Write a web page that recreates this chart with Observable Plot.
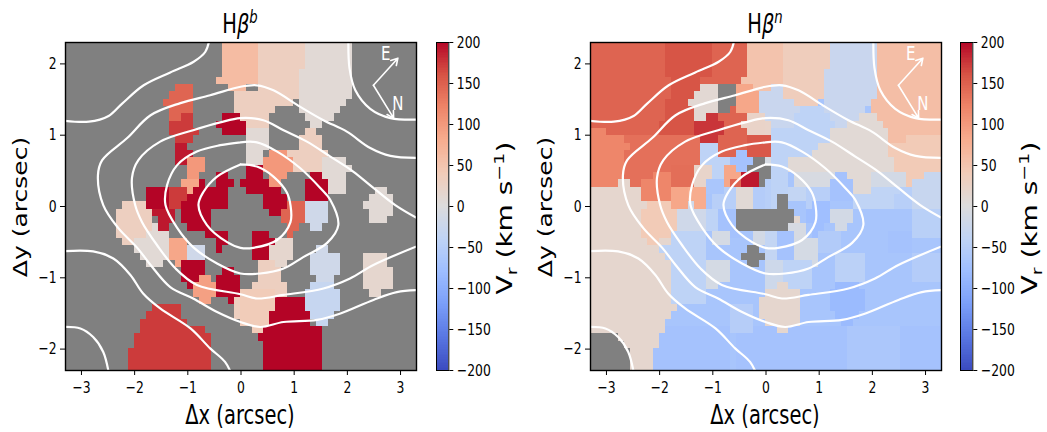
<!DOCTYPE html>
<html><head><meta charset="utf-8">
<script src="https://cdn.jsdelivr.net/npm/d3@7"></script>
<script src="https://cdn.jsdelivr.net/npm/@observablehq/plot@0.6"></script>
<style>
html,body{margin:0;padding:0;background:#fff}
#fig{position:relative;width:1047px;height:432px;overflow:hidden;font-family:"DejaVu Sans",sans-serif;color:#000}
#fig svg{position:absolute;top:0;overflow:visible}
.lab{position:absolute;white-space:nowrap;font-size:26px;line-height:1;transform-origin:center}
.lab sup,.lab sub{font-size:.68em;line-height:0}
</style></head><body><div id="fig"></div>
<script>
// Colour map stops (velocity, colour)
const cmapV=[-200,-160,-120,-80,-40,0,40,80,120,160,200];
const cmapC=["#3b4cc0","#5977e3","#7b9ff9","#9ebeff","#c0d4f5","#dddcdc","#f2cbb7","#f7ac8e","#ee8468","#d65244","#b40426"];
const tickX=[-3,-2,-1,0,1,2,3], tickY=[-2,-1,0,1,2], tickC=[-200,-150,-100,-50,0,50,100,150,200];

// Spaxel runs: [firstColumn, endColumn, firstRow, endRow, Vr km/s]; later entries overwrite earlier
const cellsB=[
[27,33,0,6,60],[26,27,5,6,60],[28,31,6,7,60],
[33,41,0,4,30],[33,40,4,8,30],[30,36,7,10,30],[29,30,7,10,30],[30,35,10,12,30],[35,39,8,9,30],
[41,49,0,8,8],[40,41,4,8,8],[40,48,8,9,8],[40,47,9,10,8],[41,46,10,11,8],[42,44,11,12,8],
[41,43,12,13,30],[40,44,13,15,30],[38,45,15,16,30],[39,44,16,18,30],
[44,48,16,21,8],[48,49,17,18,8],
[42,44,18,19,200],[41,45,19,22,200],
[41,45,22,25,-20],[42,44,25,26,-20],
[53,55,20,21,8],[52,56,21,22,8],[51,56,22,23,8],[52,56,23,24,8],[52,55,24,25,8],
[35,38,15,16,100],[34,39,16,18,100],[35,38,18,19,100],[35,37,19,20,100],
[31,35,12,15,8],[31,34,15,17,8],
[31,34,17,19,200],[30,35,19,20,200],[31,37,20,21,200],[34,38,21,23,200],[35,37,23,24,200],
[27,30,10,13,200],[26,27,11,12,200],[30,31,11,13,200],
[19,22,6,7,145],[18,22,7,8,145],[17,22,8,9,145],[18,22,9,10,145],[18,20,10,11,145],
[20,22,10,11,172],[18,22,11,13,172],[22,23,12,13,172],[19,22,13,14,172],
[19,21,14,15,190],[19,22,15,17,190],
[21,24,16,18,100],[21,23,18,19,100],[20,23,19,20,85],[20,22,20,21,85],
[23,24,19,20,200],[26,28,18,19,200],[26,29,19,20,200],
[14,20,20,22,200],[22,28,20,21,200],[20,28,21,22,200],[14,18,22,23,200],[20,28,22,23,200],
[18,21,20,22,172],[18,20,22,23,172],
[15,19,23,24,190],[20,25,23,25,200],[16,19,24,25,190],[16,18,25,26,190],[21,25,25,26,200],
[24,28,26,27,200],[26,28,27,28,200],[26,27,28,29,200],
[10,14,22,23,30],[9,15,23,27,30],[10,12,27,28,30],
[15,16,25,26,8],[14,18,26,27,8],[12,18,27,29,8],[13,18,29,30,8],[14,17,30,31,8],
[18,21,27,30,85],[19,20,30,31,85],
[21,24,28,30,-20],
[20,24,30,32,200],[20,23,32,33,200],[21,22,33,34,200],
[23,25,32,33,92],[22,26,33,35,92],[23,25,35,36,92],
[27,29,31,32,200],[26,30,32,35,200],[28,29,35,36,200],
[32,35,26,30,200],[35,36,27,28,200],
[36,39,27,29,15],[35,39,28,30,15],[35,38,30,31,15],
[33,36,30,31,30],[33,37,31,33,30],[32,38,33,35,30],
[30,36,34,39,38],[32,34,39,40,38],[29,30,35,38,30],
[36,41,35,37,200],[35,42,37,39,200],[34,44,39,45,200],[33,34,40,41,200],
[43,45,28,29,-20],[42,47,29,32,-20],[43,46,32,33,-20],
[42,46,33,34,-32],[41,47,34,37,-32],[42,46,37,38,-32],[43,45,38,39,-32],
[51,55,29,31,15],[51,56,31,34,15],[52,54,34,35,15],
[15,20,36,37,172],[14,20,37,38,172],[13,21,38,39,172],[13,24,39,40,172],[12,25,40,42,172],[11,25,42,45,172],
[38,41,22,23,145],[37,41,23,25,145],[38,40,25,26,145],[38,39,26,27,145]
];
const cellsN=[
[0,60,0,45,-68],
[0,30,0,20,146],
[13,21,0,5,158],[14,19,5,8,158],[13,18,8,11,158],[12,18,11,13,158],
[6,19,13,20,136],
[0,3,12,13,118],[0,6,13,14,118],[0,7,14,15,118],[0,6,15,19,118],[0,5,19,20,118],
[14,18,17,20,138],[9,14,19,22,118],[11,14,18,19,118],
[14,17,20,23,85],[17,20,20,23,80],[18,21,17,20,20],
[0,9,20,22,15],[5,7,19,20,15],[0,10,22,23,15],
[27,33,0,5,50],[26,33,5,6,50],[28,31,6,7,50],
[25,28,6,7,85],[25,29,7,10,85],
[31,33,6,7,-28],[29,36,7,10,-28],[30,36,10,12,-28],
[33,41,0,4,35],[33,40,4,8,35],[35,39,8,9,35],
[41,49,0,4,-28],[40,49,4,8,-28],[40,48,8,9,-28],[40,47,9,10,-28],[41,46,10,11,-28],[42,44,11,12,-28],
[49,60,0,8,57],[48,60,8,10,57],[49,60,10,11,57],[50,60,11,12,57],[51,60,12,13,57],[51,54,13,14,57],
[54,60,13,14,40],[51,60,14,17,40],[52,60,17,18,40],[53,57,18,19,40],[54,55,19,20,40],
[46,49,10,11,8],[44,50,11,12,8],[41,51,12,14,8],[39,51,14,15,8],[38,51,15,16,8],[34,52,16,18,8],
[35,41,18,20,-8],[44,48,18,21,8],[48,54,18,20,-15],[41,44,18,19,-8],
[36,40,9,10,-42],[35,41,10,11,-42],[35,42,11,12,-42],[35,41,12,14,-42],[35,39,14,15,-42],
[31,35,12,16,-42],[31,34,16,23,-42],[34,38,15,16,-42],
[30,31,11,13,20],[30,31,13,16,155],[30,31,16,17,-10],[30,31,19,23,-50],
[34,37,20,22,-36],[37,41,20,23,-50],[38,41,22,23,-78],
[42,44,18,19,-72],[41,45,19,22,-72],
[45,52,21,23,-40],[48,55,20,21,-40],[52,56,21,23,-50],[53,55,20,21,-50],[55,60,19,23,-30],[57,60,18,19,-30],
[19,22,6,7,10],[18,22,7,8,10],[17,22,8,9,10],[18,22,9,10,10],[18,20,10,11,10],
[20,22,10,11,175],[18,23,11,13,175],[19,22,13,14,175],
[27,30,10,13,22],[26,27,11,12,22],[27,30,13,16,155],
[19,22,14,17,-42],[21,24,16,19,-42],
[23,26,17,19,85],[22,24,19,20,85],
[25,27,15,18,-72],[24,28,16,17,-72],
[26,29,18,20,190],[28,29,20,21,190],
[21,25,20,23,-50],[20,23,19,21,-66],
[25,28,20,23,8],[28,30,20,23,-54],
[11,24,39,45,-72],[25,30,39,45,-72],[30,44,39,45,-72],[53,60,39,45,-72],
[0,14,23,36,15],[14,15,35,37,15],[0,14,36,38,15],[0,13,38,40,15],[0,12,40,42,15],[0,11,42,45,15],
[10,14,22,23,40],[9,15,23,27,40],[10,12,27,28,40],
[15,20,26,28,-42],[14,15,26,28,-42],[14,20,28,36,-42],[12,14,28,29,-42],[13,14,29,30,-42],
[15,20,23,26,-20],[17,18,22,23,-20],
[21,24,26,28,-12],[20,24,30,33,-12],[20,22,33,34,-12],
[20,22,23,26,-42],[22,25,23,26,-72],[24,26,26,27,-72],
[28,30,26,28,-15],[24,28,36,40,-52],[29,30,35,38,15],
[35,36,24,25,12],[34,37,25,27,-10],
[37,41,23,25,-78],[38,40,25,27,-78],
[41,45,23,25,-15],[42,44,25,26,-15],
[30,32,26,30,-36],[32,35,26,31,-72],[35,39,27,31,-12],
[30,33,30,34,-22],[33,38,30,34,-42],
[32,34,33,34,15],[30,36,34,39,15],[32,34,39,40,15],
[39,43,26,29,-56],[42,47,29,33,-46],
[42,46,33,34,-84],[41,47,34,37,-84],[42,46,37,38,-84],[43,45,38,39,-84],
[55,60,23,27,-48],[51,55,26,29,-72],[55,60,29,33,-54],[44,53,39,45,-64]
];
// Masked (no data) spaxels of the narrow component: [firstColumn,endColumn,firstRow,endRow]
const holesN=[
[22,25,6,9],[22,24,9,10],[28,30,16,17],[27,30,17,18],[29,30,18,20],[30,31,17,19],
[32,34,21,23],[25,30,23,26],[30,35,23,25],[30,34,25,26],
[27,29,28,29],[26,30,29,30],[27,29,30,31],
[0,5,40,41],[0,6,41,42],[0,7,42,45]
];

// White continuum contours, arcsec
const contourA=[[2.02,2.4],[2.04,1.94],[2.15,1.63],[2.43,1.37],[2.81,1.24],[3.4,1.22]];
const contourB=[[-3.4,1.21],[-2.86,1.19],[-2.49,1.27],[-2.24,1.44],[-1.83,1.70],[-1.33,1.88],[-0.89,2.03],[-0.67,2.17],[-0.58,2.4]];
const contourC=[[3.4,0.68],[2.81,0.71],[2.43,0.82],[1.99,1.05],[1.55,1.21],[1.11,1.40],[0.61,1.63],[0.30,1.70],[-0.01,1.68],[-0.58,1.56],[-1.14,1.45],[-1.70,1.28],[-2.14,0.96],[-2.61,0.65],[-2.69,0.44],[-2.59,0.02],[-2.31,-0.30],[-1.95,-0.58],[-1.70,-0.82],[-1.33,-1.13],[-0.90,-1.29],[-0.45,-1.48],[-0.01,-1.62],[0.36,-1.69],[0.80,-1.62],[1.43,-1.59],[1.87,-1.50],[2.49,-1.31],[2.93,-1.20],[3.4,-1.17]];
const contourD=[[3.4,-0.53],[2.49,-0.82],[2.05,-1.01],[1.55,-1.15],[0.80,-1.24],[0.30,-1.29],[-0.01,-1.23],[-0.83,-1.10],[-1.23,-0.87],[-1.58,-0.54],[-1.86,-0.22],[-1.99,0.02],[-2.05,0.40],[-1.93,0.65],[-1.52,0.91],[-0.90,1.07],[-0.39,1.18],[-0.01,1.24],[0.42,1.21],[0.80,1.07],[1.24,0.91],[1.68,0.70],[2.11,0.49],[2.49,0.26],[2.90,0.02],[3.4,-0.2]];
const contourE=[[-0.01,0.90],[0.30,0.90],[0.68,0.77],[1.11,0.54],[1.49,0.26],[1.68,0.09],[1.83,-0.26],[1.62,-0.51],[1.17,-0.71],[0.80,-0.87],[0.36,-0.94],[-0.01,-0.94],[-0.45,-0.80],[-0.90,-0.57],[-1.20,-0.30],[-1.42,0.02],[-1.39,0.30],[-1.20,0.58],[-0.83,0.77],[-0.39,0.86],[-0.01,0.90]];
const contourF=[[-0.01,0.59],[0.30,0.56],[0.61,0.42],[0.86,0.20],[0.93,0.02],[0.93,-0.22],[0.68,-0.47],[0.23,-0.58],[-0.01,-0.58],[-0.26,-0.50],[-0.64,-0.26],[-0.80,0.02],[-0.71,0.20],[-0.45,0.42],[-0.01,0.59]];
const contourG=[[-3.4,-0.63],[-2.78,-0.63],[-2.40,-0.73],[-2.08,-0.96],[-1.84,-1.22],[-1.52,-1.43],[-0.95,-1.71],[-0.58,-1.99],[-0.30,-2.18],[-0.15,-2.4]];
const contourH=[[-3.4,-1.69],[-3.02,-1.71],[-2.78,-1.83],[-2.59,-2.04],[-2.47,-2.4]];
const contours=[contourA,contourB,contourC,contourD,contourE,contourF,contourG,contourH];

// Compass: [originX,originY,tipX,tipY]
const compass=[[2.49,1.70,2.95,2.08],[2.49,1.70,2.87,1.24]];
const compassLabels=[[2.72,2.14,"E"],[2.95,1.44,"N"]];

const colX=c=>Math.max(-3.3,Math.min(3.3,-3.329+0.1106*c));
const rowY=k=>Math.max(-2.3,Math.min(2.3,2.328-0.10285*k));
const colorOpt={type:"linear",domain:cmapV,range:cmapC,clamp:true};
const fontStyle={fontFamily:"DejaVu Sans",fontSize:"16.5px",color:"#000",background:"transparent",overflow:"visible"};
const fig=document.getElementById("fig");

function addSvg(svg,left){svg.style.left=left+"px";fig.appendChild(svg);
  svg.querySelectorAll("text").forEach(t=>{const w=t.getComputedTextLength();
    t.setAttribute("lengthAdjust","spacingAndGlyphs");t.setAttribute("textLength",w*0.75);});}

function panel(cells,holes,left){
  const rect=(d,extra)=>Plot.rect(d,{x1:r=>colX(r[0]),x2:r=>colX(r[1]),y1:r=>rowY(r[2]),y2:r=>rowY(r[3]),shapeRendering:"crispEdges",...extra});
  const p=Plot.plot({width:430,height:432,marginLeft:65,marginRight:14,marginTop:42,marginBottom:62,style:fontStyle,
    x:{domain:[-3.3,3.3]},y:{domain:[-2.3,2.3]},color:colorOpt,
    marks:[
      Plot.frame({fill:"#808080",stroke:"none"}),
      rect(cells,{fill:r=>r[4]}),
      rect(holes,{fill:"#808080"}),
      ...contours.map(c=>Plot.line(c,{curve:"catmull-rom",stroke:"#fff",strokeWidth:2.2,clip:true})),
      Plot.arrow(compass,{x1:d=>d[0],y1:d=>d[1],x2:d=>d[2],y2:d=>d[3],stroke:"#fff",strokeWidth:1.6,headLength:7,bend:0}),
      Plot.text(compassLabels,{x:d=>d[0],y:d=>d[1],text:d=>d[2],fill:"#fff",fontSize:20}),
      Plot.axisX({ticks:tickX,tickFormat:"d",tickSize:5,tickPadding:6,label:null,stroke:"#000"}),
      Plot.axisY({ticks:tickY,tickFormat:"d",tickSize:5,tickPadding:4,label:null,stroke:"#000"}),
      Plot.frame({stroke:"#000",strokeWidth:1.4})
    ]});
  addSvg(p,left);
}
function colorbar(left){
  const ramp=d3.range(-200,200,2);
  const p=Plot.plot({width:70,height:432,marginLeft:5,marginRight:52.7,marginTop:42,marginBottom:62,style:fontStyle,
    x:{domain:[0,1],axis:null},y:{domain:[-200,200]},color:colorOpt,
    marks:[
      Plot.rect(ramp,{x1:0,x2:1,y1:v=>v,y2:v=>v+2,fill:v=>v,shapeRendering:"crispEdges"}),
      Plot.axisY({anchor:"right",ticks:tickC,tickFormat:"d",tickSize:4,tickPadding:4,label:null,stroke:"#000"}),
      Plot.frame({stroke:"#000",strokeWidth:1})
    ]});
  addSvg(p,left);
}
function label(html,x,y,rot,size){
  const d=document.createElement("div");d.className="lab";d.innerHTML=html;
  d.style.left=x+"px";d.style.top=y+"px";
  if(size)d.style.fontSize=size+"px";
  d.style.transform=rot?"translate(-50%,-50%) rotate(-90deg) scaleY(0.75)":"translate(-50%,-50%) scaleX(0.75)";
  fig.appendChild(d);
}
panel(cellsB,[],0);
panel(cellsN,holesN,525);
colorbar(430.5);
colorbar(954.5);
[[0,"b"],[524.5,"n"]].forEach(([o,s])=>{
  label(`H<i>β</i><sup><i>${s}</i></sup>`,240+o,24,false);
  label("Δx (arcsec)",240+o,415,false);
  label("Δy (arcsec)",21+o,207,true,25);
  label("V<sub>r</sub> (km s<sup>−1</sup>)",505+o,218,true,28);
});
</script></body></html>
